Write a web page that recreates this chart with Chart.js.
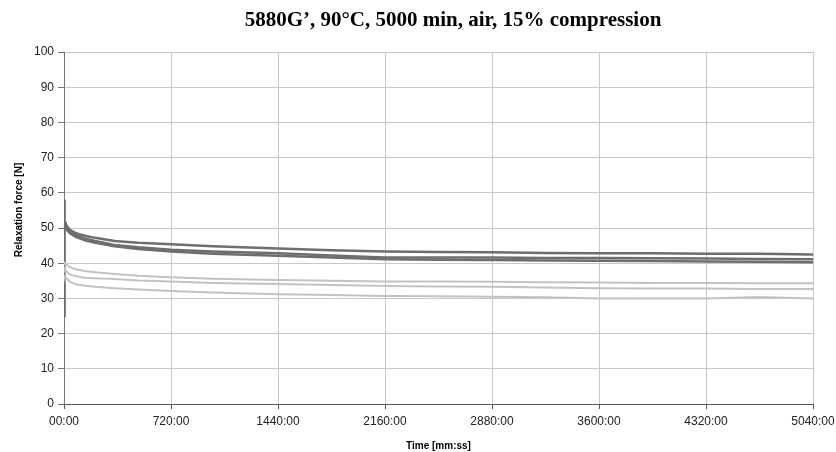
<!DOCTYPE html>
<html>
<head>
<meta charset="utf-8">
<script src="https://cdn.jsdelivr.net/npm/chart.js@4/dist/chart.umd.min.js"></script>
<style>
  html, body { margin: 0; padding: 0; background: #fff; }
  #wrap { width: 836px; height: 452px; }
</style>
</head>
<body>
<div id="wrap"><canvas id="chart-area" width="836" height="452"></canvas></div>
<script>
// time in minutes
var times  = [0, 4, 20, 40, 80, 140, 210, 340, 500, 720, 1000, 1440, 1800, 2160, 2520, 2880, 3240, 3600, 3960, 4320, 4680, 5040];

// darker curves
var dark1  = [58, 52, 50.5, 49.5, 48.5, 47.8, 47.2, 46.3, 45.8, 45.4, 44.8, 44.2, 43.7, 43.3, 43.2, 43.1, 42.9, 42.8, 42.8, 42.7, 42.7, 42.5];
var dark2  = [51.5, 51, 50, 49, 48, 47, 46.3, 45.2, 44.5, 43.8, 43.3, 42.8, 42.2, 41.6, 41.6, 41.6, 41.5, 41.5, 41.4, 41.3, 41.2, 41.1];
var dark3  = [25, 51.5, 49.5, 48.5, 47.5, 46.5, 45.8, 44.8, 44, 43.3, 42.7, 42.1, 41.6, 41.1, 41.0, 40.9, 40.8, 40.7, 40.6, 40.5, 40.4, 40.3];

// lighter curves
var light1 = [40.4, 40, 39.5, 38.9, 38.3, 37.8, 37.4, 36.9, 36.4, 36.0, 35.6, 35.2, 35.0, 34.8, 34.8, 34.7, 34.6, 34.5, 34.4, 34.4, 34.3, 34.3];
var light2 = [38.9, 38.3, 37.5, 36.8, 36.3, 35.9, 35.7, 35.5, 35.1, 34.8, 34.4, 34.1, 33.8, 33.5, 33.4, 33.3, 33.1, 32.9, 32.8, 32.8, 32.7, 32.7];
var light3 = [36.6, 36, 35.5, 34.7, 34.0, 33.6, 33.3, 32.9, 32.5, 32.1, 31.7, 31.2, 31.0, 30.7, 30.6, 30.5, 30.3, 30.0, 30.0, 30.0, 30.4, 30.0];

var yTicks = [0, 10, 20, 30, 40, 50, 60, 70, 80, 90, 100];

var chartTitle = '5880G\u2019, 90\u00B0C, 5000 min, air, 15% compression';
var yTitle = 'Relaxation force [N]';
var xTitle = 'Time [mm:ss]';

function pts(vals) {
    return times.map(function (t, i) { return { x: t, y: vals[i] }; });
}

function line(vals, color, width) {
    return {
        data: pts(vals),
        borderColor: color,
        borderWidth: width,
        pointRadius: 0,
        tension: 0,
        fill: false
    };
}

var DARK = '#6e6e6e';
var LIGHT = '#c2c2c2';

// title + rotated y title drawn at fixed spots
var textPlugin = {
    id: 'texts',
    afterDraw: function (chart) {
        var c = chart.ctx;
        c.save();
        c.fillStyle = '#000';
        c.textAlign = 'center';
        c.textBaseline = 'middle';
        c.font = 'bold 21px "Liberation Serif", "Times New Roman", serif';
        c.fillText(chartTitle, 453, 21);
        c.translate(19, 210);
        c.rotate(-Math.PI / 2);
        c.font = 'bold 10px "Liberation Sans", Arial, sans-serif';
        c.fillText(yTitle, 0, 0);
        c.restore();
    }
};

ctx = document.getElementById('chart-area').getContext('2d');
new Chart(ctx, {
    type: 'line',
    data: {
        datasets: [
            line(light1, LIGHT, 2),
            line(light2, LIGHT, 2),
            line(light3, LIGHT, 2),
            line(dark1, DARK, 2.5),
            line(dark2, DARK, 2.5),
            line(dark3, DARK, 2.5)
        ]
    },
    options: {
        responsive: false,
        animation: false,
        layout: { padding: { left: 0, right: 23, top: 52, bottom: 0 } },
        plugins: {
            legend: { display: false },
            title: { display: false },
            tooltip: { enabled: false }
        },
        scales: {
            x: {
                type: 'linear',
                min: 0,
                max: 5040,
                afterFit: function (s) {
                    s.height = 48;
                    s.paddingLeft = 0;
                    s.paddingRight = 0;
                },
                afterBuildTicks: function (s) {
                    s.ticks = [];
                    for (var v = 0; v <= 5040; v += 720) s.ticks.push({ value: v });
                },
                ticks: {
                    color: '#222',
                    font: { family: '"Liberation Sans", Arial, sans-serif', size: 12 },
                    padding: 5,
                    maxRotation: 0,
                    callback: function (v) { return (v === 0 ? '00' : v) + ':00'; }
                },
                grid: {
                    color: '#c8c8c8',
                    tickColor: '#555',
                    tickLength: 5,
                    lineWidth: 1
                },
                border: { display: true, color: '#555', width: 1 },
                title: {
                    display: true,
                    text: xTitle,
                    color: '#000',
                    font: { family: '"Liberation Sans", Arial, sans-serif', size: 10, weight: 'bold' },
                    padding: { top: 3, bottom: 0 }
                }
            },
            y: {
                min: 0,
                max: 100,
                afterFit: function (s) { s.width = 64; },
                afterBuildTicks: function (s) {
                    s.ticks = yTicks.map(function (v) { return { value: v }; });
                },
                ticks: {
                    color: '#222',
                    font: { family: '"Liberation Sans", Arial, sans-serif', size: 12 },
                    padding: 4
                },
                grid: {
                    color: '#c8c8c8',
                    tickColor: '#777',
                    tickLength: 6,
                    lineWidth: 1
                },
                border: { display: true, color: '#777', width: 1 }
            }
        }
    },
    plugins: [textPlugin]
});
</script>
</body>
</html>
